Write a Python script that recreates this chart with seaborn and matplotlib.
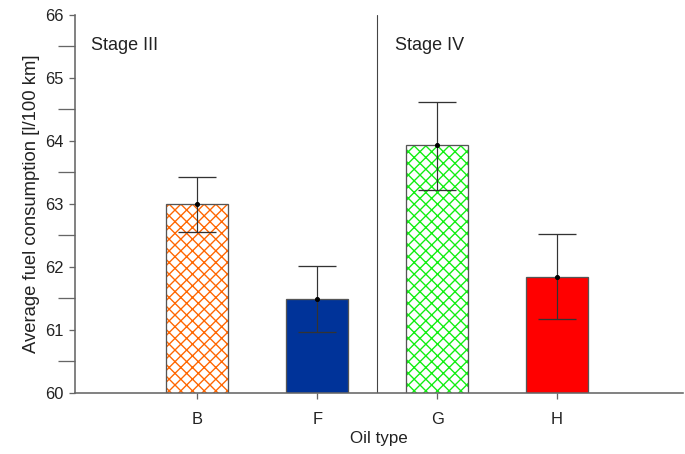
import matplotlib
matplotlib.use("Agg")
import matplotlib.pyplot as plt
import matplotlib.colors as mcolors
import seaborn as sns
import pandas as pd
import numpy as np

# ---- data ----
oil_types = ["B", "F", "G", "H"]
means = [63.00, 61.49, 63.94, 61.84]
err_upper = [63.43, 62.01, 64.62, 62.52]
err_lower = [62.56, 60.97, 63.22, 61.17]
fill_colors = ["white", "#003399", "white", "#ff0000"]
hatch_colors = ["#ff6600", None, "#11ee11", None]
stage_labels = ["Stage III", "Stage IV"]
y_ticks = [60, 61, 62, 63, 64, 65, 66]

DPI = 70
def px(v):
    return v * 72.0 / DPI

sns.set_theme(style="ticks")
plt.rcParams['font.family'] = ['Liberation Sans', 'DejaVu Sans']
plt.rcParams['hatch.linewidth'] = 1.4

fig = plt.figure(figsize=(685 / DPI, 454 / DPI), dpi=DPI)
ax = fig.add_axes([75 / 685, 61 / 454, 608 / 685, 378 / 454])

df = pd.DataFrame({"oil": oil_types, "mean": means})
sns.barplot(data=df, x="oil", y="mean", hue="oil", palette=fill_colors,
            order=oil_types, width=0.52, errorbar=None, legend=False,
            edgecolor="#555555", linewidth=px(1.3), saturation=1, ax=ax)

for p, oil in zip(ax.patches, oil_types):
    i = oil_types.index(oil)
    hc = hatch_colors[i]
    if hc is not None:
        p.set_hatch("xx")
        p._hatch_color = mcolors.to_rgba(hc)

xpos = np.arange(len(oil_types))
yerr = [np.array(means) - np.array(err_lower), np.array(err_upper) - np.array(means)]
ax.errorbar(xpos, means, yerr=yerr, fmt="o", ms=px(4), color="black",
            ecolor="#333333", elinewidth=px(1.2), capsize=px(19), capthick=px(1.3), zorder=5)

ax.axvline(1.5, color="#444444", lw=px(1.1))

ax.set_ylim(60, 66)
ax.set_xlim(-1.02, 4.05)
ax.set_yticks(y_ticks)
ax.set_yticks(np.arange(60.5, 66, 1.0), minor=True)
ax.tick_params(axis="y", which="major", length=px(6), width=px(1.3), color="#666666",
               labelsize=px(16.5), pad=px(5), labelcolor="#222222")
ax.tick_params(axis="y", which="minor", length=px(17), width=px(1.3), color="#666666")
ax.tick_params(axis="x", length=px(6), width=px(1.3), color="#666666",
               labelsize=px(16.5), pad=px(13), labelcolor="#222222")

for s in ["top", "right"]:
    ax.spines[s].set_visible(False)
for s in ["left", "bottom"]:
    ax.spines[s].set_color("#666666")
    ax.spines[s].set_linewidth(px(1.6))

ax.set_xlabel("Oil type", fontsize=px(17), color="#222222", labelpad=px(4))
ax.set_ylabel("Average fuel consumption [l/100 km]", fontsize=px(18.5), color="#222222", labelpad=px(5))

ax.text(-0.89, 65.52, stage_labels[0], fontsize=px(18), color="#222222", va="center")
ax.text(1.65, 65.52, stage_labels[1], fontsize=px(18), color="#222222", va="center")

fig.savefig("out.png", dpi=DPI)
